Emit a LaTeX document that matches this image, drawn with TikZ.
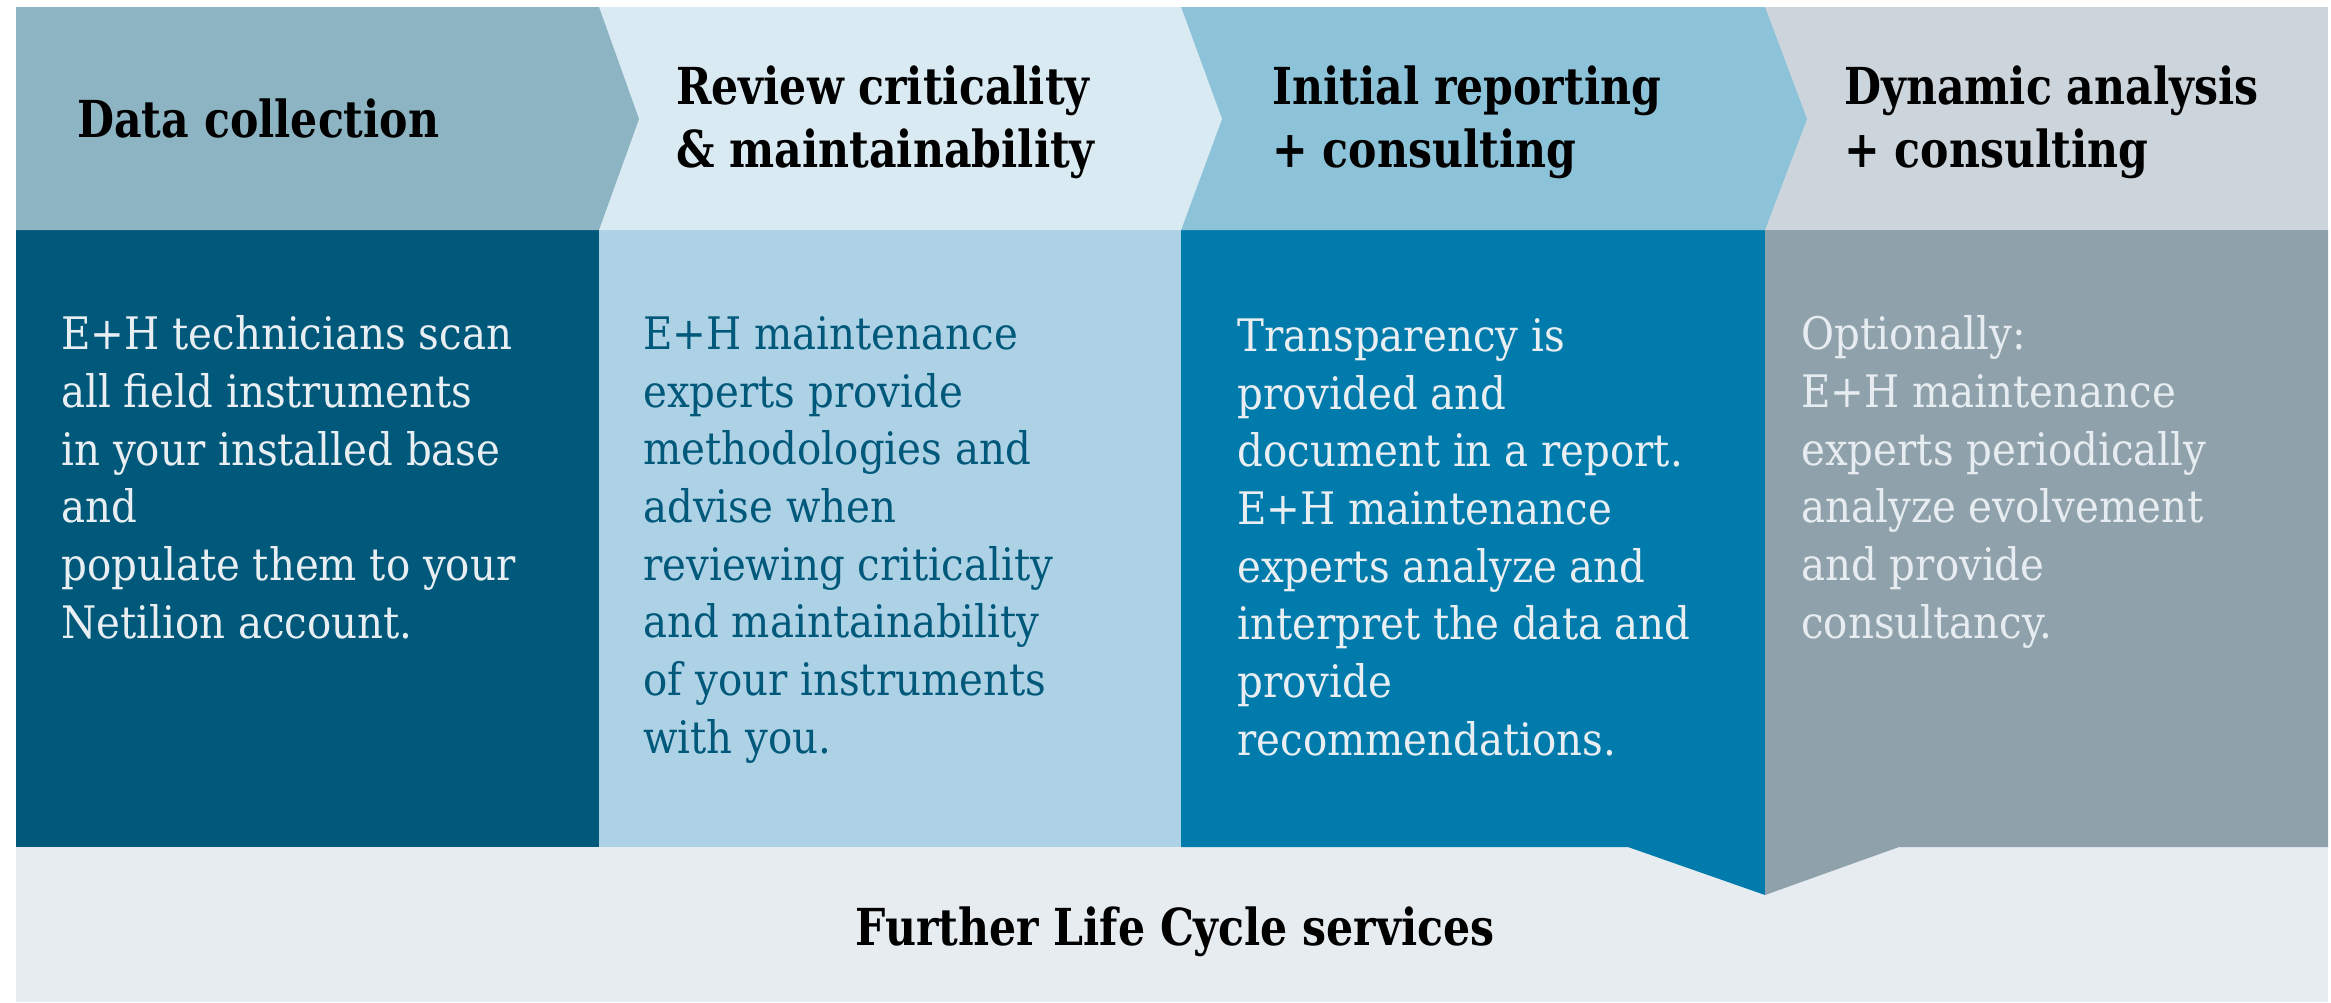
\documentclass[tikz,border=0pt]{standalone}
\usepackage{fontspec}
\setmainfont{DejaVu Serif Condensed}
\newfontfamily\headfont[FakeStretch=0.93]{DejaVu Serif Condensed Bold}
\definecolor{headA}{HTML}{8DB4C3}
\definecolor{headB}{HTML}{DAEAF3}
\definecolor{headC}{HTML}{8DC3D9}
\definecolor{headD}{HTML}{CDD5DC}
\definecolor{bodyA}{HTML}{00587A}
\definecolor{bodyB}{HTML}{AED2E5}
\definecolor{bodyC}{HTML}{007BAB}
\definecolor{bodyD}{HTML}{8FA1AB}
\definecolor{band}{HTML}{E6ECF0}
\definecolor{lighttext}{HTML}{E8EEF2}

\begin{document}
\begin{tikzpicture}[%
  x=0.02cm, y=-0.02cm,
  head/.style={anchor=base west, inner sep=0pt, align=left, text=black,
    font=\headfont\fontsize{29}{35.3}\selectfont},
  body/.style={anchor=base west, inner sep=0pt, align=left,
    font=\fontsize{25.5}{32.8}\selectfont}]
  \useasboundingbox (0,0) rectangle (2331,1002);
  % bottom band
  \fill[band] (16,847) rectangle (2328,1002);
  % bodies
  \fill[bodyA] (16,230) rectangle (599,847);
  \fill[bodyB] (599,230) rectangle (1181,847);
  \fill[bodyC] (1181,230) -- (1765,230) -- (1765,895) -- (1628,847) -- (1181,847) -- cycle;
  \fill[bodyD] (1765,230) -- (2328,230) -- (2328,847) -- (1899,847) -- (1765,895) -- cycle;
  % headers, right to left so the tips overlap
  \fill[headD] (1765,7) rectangle (2328,230);
  \fill[headC] (1181,7) -- (1765,7) -- (1807,119) -- (1765,230) -- (1181,230) -- cycle;
  \fill[headB] (599,7) -- (1181,7) -- (1222,119) -- (1181,230) -- (599,230) -- cycle;
  \fill[headA] (16,7) -- (599,7) -- (639,119) -- (599,230) -- (16,230) -- cycle;

  % multi-line nodes sit on the baseline of their last line
  \node[head] (hcollect) at (77,137) {Data collection};
  \node[head] (hreview) at (676,167) {Review criticality\\\& maintainability};
  \node[head] (hreport) at (1272,167) {Initial reporting\\+ consulting};
  \node[head] (hdynamic) at (1844,167) {Dynamic analysis\\+ consulting};

  \node[body, text=lighttext] (bcollect) at (61,638)
    {E+H technicians scan\\all field instruments\\in your installed base\\and\\populate them to your\\Netilion account.};
  \node[body, text=bodyA] (breview) at (643,753)
    {E+H maintenance\\experts provide\\methodologies and\\advise when\\reviewing criticality\\and maintainability\\of your instruments\\with you.};
  \node[body, text=lighttext] (breport) at (1237,755)
    {Transparency is\\provided and\\document in a report.\\E+H maintenance\\experts analyze and\\interpret the data and\\provide\\recommendations.};
  \node[body, text=band] (bdynamic) at (1801,638)
    {Optionally:\\E+H maintenance\\experts periodically\\analyze evolvement\\and provide\\consultancy.};

  \node[head, anchor=base] (further) at (1175,945) {Further Life Cycle services};
\end{tikzpicture}
\end{document}
